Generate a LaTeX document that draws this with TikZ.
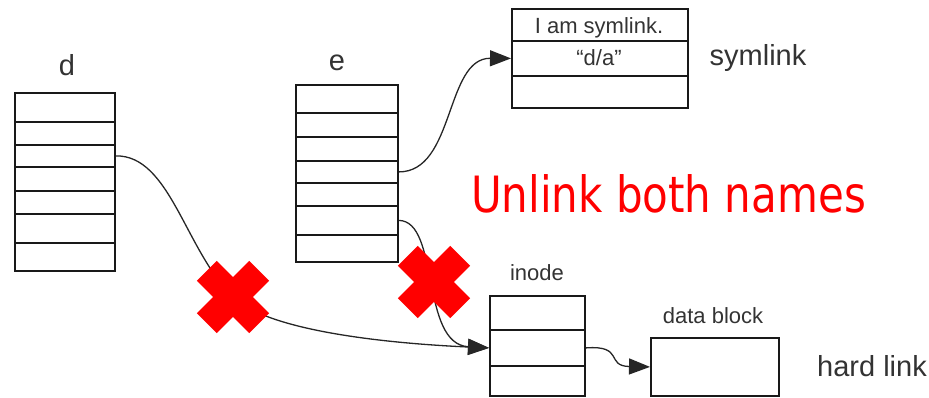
\documentclass[tikz,border=0pt]{standalone}
\usepackage{fontspec}
\setmainfont{Liberation Sans}
\newfontfamily\headfont{DejaVu Sans}
\usetikzlibrary{arrows.meta}
\definecolor{ink}{HTML}{333333}
\definecolor{alarm}{HTML}{FF0000}
\tikzset{
  cell/.style={draw=black!90, line width=1.8pt, inner sep=0pt, anchor=north west,
               font=\fontsize{22}{24}\selectfont, text=ink},
  lbl/.style={anchor=base, text=ink, inner sep=0pt},
  big/.style={lbl, font=\fontsize{29}{32}\selectfont},
  small/.style={lbl, font=\fontsize{22}{24}\selectfont},
  link/.style={draw=black!85, line width=1.3pt},
  tip/.style={-{Triangle[length=21pt,width=16pt]}},
  redcross/.pic={
    \fill[alarm, rotate=45] (-37,-14) rectangle (37,14);
    \fill[alarm, rotate=-45] (-37,-14) rectangle (37,14);
  }
}
\begin{document}
\begin{tikzpicture}[x=1pt, y=-1pt]
\useasboundingbox (0,0) rectangle (929,397);

% directory d
\node[big] (dname) at (67,75) {d};
\foreach \i/\t/\b in {1/92/121, 2/121/144, 3/144/166, 4/166/190, 5/190/213, 6/213/242, 7/242/270}
  \node[cell, minimum width=100pt, minimum height={(\b-\t)*1pt}] (d\i) at (14,\t) {};

% directory e
\node[big] (ename) at (337,70) {e};
\foreach \i/\t/\b in {1/84/112, 2/112/136, 3/136/160, 4/160/182, 5/182/205, 6/205/234, 7/234/261}
  \node[cell, minimum width=102pt, minimum height={(\b-\t)*1pt}] (e\i) at (295,\t) {};

% symlink file
\node[cell, minimum width=176pt, minimum height=32pt] (s1) at (511,8) {};
\node[cell, minimum width=176pt, minimum height=35pt] (s2) at (511,40) {};
\node[cell, minimum width=176pt, minimum height=32pt] (s3) at (511,75) {};
\node[small] (s1txt) at (599,33) {I am symlink.};
\node[small] (s2txt) at (599,65) {“d/a”};
\node[big] (symname) at (758,65) {symlink};

% inode and data block
\node[small] (iname) at (537,280) {inode};
\node[cell, minimum width=95pt, minimum height=34pt] (i1) at (489,295) {};
\node[cell, minimum width=95pt, minimum height=36pt] (i2) at (489,329) {};
\node[cell, minimum width=95pt, minimum height=30pt] (i3) at (489,365) {};
\node[small] (dbname) at (713,323) {data block};
\node[cell, minimum width=128pt, minimum height=58pt] (data) at (650,337) {};
\node[big] (hardname) at (872,376) {hard link};

% heading
\node[anchor=base west, inner sep=0pt, text=alarm, xscale=0.84,
      font=\headfont\fontsize{50}{56}\selectfont] (head) at (471,212) {Unlink both names};

% connectors
\coordinate (xd) at (233,297);
\coordinate (xe) at (434,282);
\draw[link, tip] (e4.east) .. controls (455,172) and (445,58) .. (s2.west);
\draw[link, tip] (d3.east) .. controls (170,155) and (185,250) .. (xd)
                 .. controls (270,333) and (400,344) .. (i2.west);
\draw[link, tip] (e6.east) .. controls (440,221) and (420,344) .. (i2.west);
\draw[link, tip] (i2.east) .. controls (625,345) and (605,366) .. (data.west);

% removed links
\pic at (xd) {redcross};
\pic at (xe) {redcross};
\end{tikzpicture}
\end{document}
